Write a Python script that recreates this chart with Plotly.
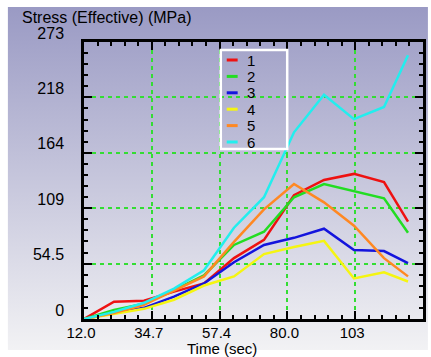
import base64
import plotly.graph_objects as go

# ---- data ----
times = [12, 22, 32, 42, 52, 62, 72, 82, 92, 102, 112, 120]
s1 = [0, 17, 18, 27, 35, 60, 78, 122, 137, 143, 135, 96]
s2 = [0, 9, 15, 28.5, 43, 73, 86, 120, 133, 126, 119, 85]
s3 = [0, 6, 11, 22, 35, 56, 73, 80, 89, 68, 67, 55]
s4 = [0, 5, 10, 19, 33, 42, 64, 71, 77, 40, 46, 37]
s5 = [0, 6, 14, 28, 42, 76, 108, 133, 115, 92, 60, 42]
s6 = [0, 7, 16, 30, 48, 90, 120, 184, 221, 197, 209, 260]
series_names = ["1", "2", "3", "4", "5", "6"]
series_colors = ["#ee1111", "#22dd22", "#1414dd", "#f5f511", "#ff8822", "#22eeee"]

x_tickvals = [12, 34.6, 57.2, 79.8, 102.4, 125]
x_ticktext = ["12.0", "34.7", "57.4", "80.0", "103", "125"]
y_tickvals = [0, 54.6, 109.2, 163.8, 218.4, 273]
y_ticktext = ["0", "54.5", "109", "164", "218", "273"]

W, H = 431, 357
L, R, T, B = 84, 5, 42, 38
pw, ph = W - L - R, H - T - B

fig = go.Figure()
for name, ys, col in zip(series_names, [s1, s2, s3, s4, s5, s6], series_colors):
    fig.add_trace(go.Scatter(x=times, y=ys, mode="lines", name=name, showlegend=False,
                             line=dict(color=col, width=2.5)))

svg = ('<svg xmlns="http://www.w3.org/2000/svg" width="100" height="100" preserveAspectRatio="none">'
       '<defs><linearGradient id="g" x1="0" y1="0" x2="0" y2="1">'
       '<stop offset="0" stop-color="#9a9ac4"/>'
       '<stop offset="0.5" stop-color="#c6c6dc"/>'
       '<stop offset="1" stop-color="#f2f2f4"/>'
       '</linearGradient></defs><rect width="100" height="100" fill="url(#g)"/></svg>')
src = "data:image/svg+xml;base64," + base64.b64encode(svg.encode()).decode()

def px2x(p):
    return (p - L) / pw

def py2y(p):
    return (H - B - p) / ph

fig.add_layout_image(dict(source=src, xref="paper", yref="paper",
                          x=px2x(7), y=py2y(7), sizex=(W - 7) / pw, sizey=(350 - 7) / ph,
                          xanchor="left", yanchor="top", sizing="stretch", layer="below"))

font_family = "Liberation Sans, Arial, sans-serif"
axis_common = dict(showline=True, linecolor="black", linewidth=2.5, mirror="allticks",
                   ticks="inside", ticklen=8, tickwidth=2, tickcolor="black",
                   showgrid=True, gridcolor="#33dd33", gridwidth=1.5, griddash="4px,4px",
                   zeroline=False)

fig.update_xaxes(range=[12, 125], tickmode="array", tickvals=x_tickvals, ticktext=x_ticktext,
                 minor=dict(ticks="inside", ticklen=4, tickwidth=1.5, tickcolor="black",
                            tick0=12, dtick=4.52, showgrid=False),
                 tickfont=dict(family=font_family, size=15, color="black"),
                 ticklabelshift=-3, ticklabelstandoff=-2, **axis_common)
fig.update_yaxes(range=[0, 273], tickmode="array", tickvals=y_tickvals, ticktext=y_ticktext,
                 minor=dict(ticks="inside", ticklen=4, tickwidth=1.5, tickcolor="black",
                            tick0=0, dtick=10.92, showgrid=False),
                 tickfont=dict(family=font_family, size=16, color="black"),
                 ticklabelshift=-9, ticklabelstandoff=14, **axis_common)

fig.add_annotation(text="Stress (Effective) (MPa)", xref="paper", yref="paper",
                   x=px2x(19), y=py2y(17), xanchor="left", yanchor="middle", showarrow=False,
                   font=dict(family=font_family, size=16, color="black"))
fig.add_annotation(text="Time (sec)", xref="paper", yref="paper",
                   x=px2x(223), y=py2y(348.5), xanchor="center", yanchor="middle", showarrow=False,
                   borderpad=0,
                   font=dict(family=font_family, size=15, color="black"))

# ---- legend box (drawn manually to match compact spacing) ----
lg_left, lg_right, lg_top, lg_bottom = 222, 289, 50, 149
fig.add_shape(type="rect", xref="paper", yref="paper",
              x0=px2x(lg_left), x1=px2x(lg_right), y0=py2y(lg_bottom), y1=py2y(lg_top),
              line=dict(color="white", width=2.5), fillcolor="rgba(0,0,0,0)")
row0, row_step = 60, 16.4
for i, (name, col) in enumerate(zip(series_names, series_colors)):
    yy = py2y(row0 + i * row_step)
    fig.add_shape(type="line", xref="paper", yref="paper",
                  x0=px2x(228), x1=px2x(239), y0=yy, y1=yy,
                  line=dict(color=col, width=3))
    fig.add_annotation(text=name, xref="paper", yref="paper", x=px2x(246), y=yy,
                       xanchor="left", yanchor="middle", showarrow=False,
                       font=dict(family=font_family, size=15, color="black"))

fig.update_layout(width=W, height=H, margin=dict(l=L, r=R, t=T, b=B),
                  paper_bgcolor="white", plot_bgcolor="rgba(0,0,0,0)",
                  showlegend=False)

fig.write_html("out.html")
